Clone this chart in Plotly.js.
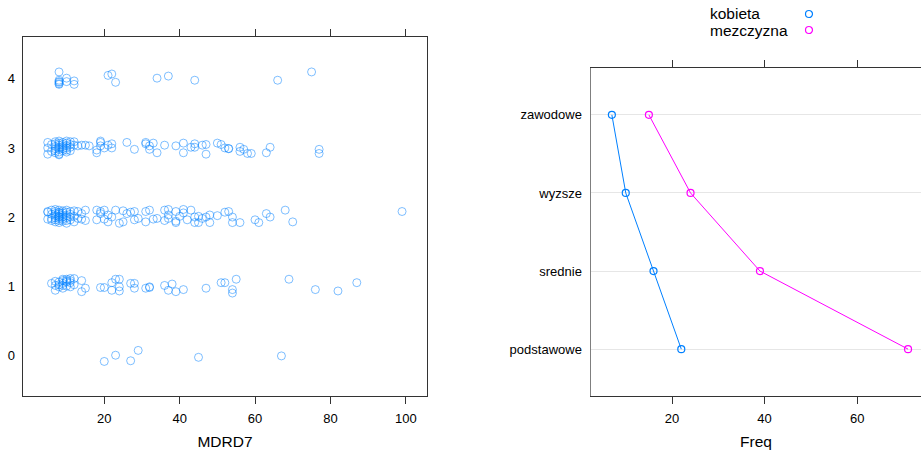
<!DOCTYPE html>
<html>
<head>
<meta charset="utf-8">
<script src="https://cdn.plot.ly/plotly-3.0.1.min.js"></script>
<style>html,body{margin:0;padding:0;background:#fff;}#chart{width:921px;height:454px;}</style>
</head>
<body>
<div id="chart"></div>
<script>
// ---- Left panel: stripplot of MDRD7 by group (jittered y values as read) ----
var lvl0_x = [20, 23, 27, 29, 45, 67];
var lvl0_y = [-0.09, 0.0, -0.08, 0.07, -0.03, -0.01];

var lvl1_x = [6, 7, 7, 8, 8, 9, 9, 9, 10, 10, 10, 11, 11, 12, 8, 9, 10, 11, 7, 9, 12, 11,
  14, 14, 15, 19, 20, 22, 22, 23, 24, 24, 24, 27, 28, 28, 31, 32, 32, 36, 37, 38, 39, 41,
  47, 51, 52, 54, 54, 55, 69, 76, 82, 87];
var lvl1_y = [1.04, 1.01, 0.94, 1.06, 0.99, 1.10, 1.04, 0.97, 1.10, 1.06, 1.00, 1.11, 0.99, 1.11, 1.02, 1.01, 1.08, 1.05, 1.07, 1.08, 1.02, 1.08,
  1.08, 0.92, 0.97, 0.98, 0.98, 1.05, 0.94, 1.10, 1.10, 0.99, 0.93, 1.04, 1.04, 0.97, 0.97, 0.98, 0.99, 1.01, 0.94, 1.03, 0.92, 0.95,
  0.97, 1.05, 1.05, 0.95, 0.90, 1.10, 1.10, 0.95, 0.93, 1.05];

var lvl2_x = [5, 5, 5, 6, 6, 6, 6, 7, 7, 7, 7, 7, 7, 7, 8, 8, 8, 8, 8, 8, 8, 8, 8,
  9, 9, 9, 9, 9, 9, 10, 10, 10, 10, 10, 10, 11, 11, 11, 11, 12, 12, 12, 13, 13, 14, 14, 15, 15,
  18, 18, 19, 19, 20, 20, 21, 21, 22, 23, 24, 25, 25, 26, 27, 28, 28, 29, 31, 31, 32, 33, 34,
  36, 36, 37, 37, 37, 39, 39, 39, 40, 41, 41, 42, 43, 44, 44, 45, 45, 46, 47, 48, 48, 50,
  52, 53, 54, 54, 56, 60, 61, 63, 64, 68, 70, 99];
var lvl2_y = [2.08, 2.07, 1.97, 2.10, 2.04, 1.98, 1.95, 2.11, 2.08, 2.05, 2.02, 1.99, 1.96, 1.93, 2.10, 2.07, 2.04, 2.01, 1.98, 1.95, 1.92, 2.06, 2.00,
  2.09, 2.06, 2.03, 2.00, 1.97, 1.94, 2.10, 2.07, 2.02, 1.99, 1.95, 1.91, 2.08, 2.04, 2.00, 1.96, 2.09, 2.01, 1.93, 2.08, 1.98, 2.05, 1.97, 2.10, 1.95,
  2.10, 1.96, 2.08, 2.05, 2.10, 1.97, 1.93, 2.03, 2.00, 2.10, 1.91, 1.93, 2.09, 2.05, 2.07, 1.96, 2.08, 1.98, 1.93, 2.08, 2.10, 1.97, 1.98,
  2.10, 1.95, 2.11, 2.03, 1.98, 2.08, 1.94, 1.92, 2.01, 2.11, 2.06, 1.96, 2.10, 2.00, 1.92, 2.01, 1.92, 1.98, 2.00, 2.03, 1.92, 2.02,
  2.07, 2.08, 2.00, 1.92, 1.92, 1.96, 1.92, 2.05, 2.00, 2.10, 1.93, 2.08];

var lvl3_x = [5, 5, 5, 6, 6, 7, 7, 7, 7, 7, 7, 8, 8, 8, 8, 8, 8, 8, 8,
  9, 9, 9, 9, 9, 10, 10, 10, 10, 10, 10, 11, 11, 11, 11, 12, 12, 13, 14, 15, 16,
  18, 18, 19, 19, 19, 20, 21, 22, 22, 26, 28, 31, 31, 32, 32, 33, 34, 36, 39, 41, 41,
  43, 44, 44, 46, 47, 47, 50, 51, 52, 53, 53, 56, 56, 57, 58, 59, 63, 64, 77, 77];
var lvl3_y = [3.08, 3.00, 2.91, 3.05, 2.95, 3.09, 3.06, 3.02, 2.99, 2.96, 2.93, 3.10, 3.07, 3.04, 3.01, 2.98, 2.94, 2.91, 2.90,
  3.08, 3.05, 3.02, 2.99, 2.96, 3.10, 3.07, 3.03, 3.00, 2.97, 2.94, 3.09, 3.05, 3.01, 2.96, 3.09, 3.04, 3.03, 3.04, 3.04, 3.03,
  2.97, 2.93, 3.10, 3.08, 3.03, 3.00, 3.04, 3.06, 3.00, 3.08, 2.98, 3.08, 3.06, 3.03, 2.98, 3.07, 2.93, 3.04, 3.03, 3.07, 2.93,
  3.01, 3.06, 3.01, 3.04, 3.05, 2.91, 3.07, 3.05, 3.00, 2.99, 2.99, 3.01, 2.95, 2.98, 2.92, 2.92, 2.93, 3.01, 2.98, 2.92];

var lvl4_x = [8, 8, 8, 8, 8, 8, 10, 10, 12, 12, 21, 22, 23, 34, 37, 44, 66, 75];
var lvl4_y = [4.10, 3.98, 3.95, 3.93, 3.92, 3.96, 4.01, 3.96, 3.97, 3.92, 4.05, 4.07, 3.95, 4.01, 4.04, 3.98, 3.98, 4.10];

var leftTicks = [0, 1, 2, 3, 4];
var leftXTicks = [20, 40, 60, 80, 100];

// ---- Right panel: Freq by education and sex ----
var eduCats = ["podstawowe", "srednie", "wyzsze", "zawodowe"];
var freqKobieta = [22, 16, 10, 7];
var freqMezczyzna = [71, 39, 24, 15];
var rightXTicks = [20, 40, 60];
var seriesNames = ["kobieta", "mezczyzna"];
var seriesColors = ["#0080ff", "#ff00ff"];

var allX = [].concat(lvl0_x, lvl1_x, lvl2_x, lvl3_x, lvl4_x);
var allY = [].concat(lvl0_y, lvl1_y, lvl2_y, lvl3_y, lvl4_y);

var FONT = "Liberation Sans, Arial, Helvetica, sans-serif";

var traces = [
  {
    type: "scatter", mode: "markers", x: allX, y: allY, xaxis: "x", yaxis: "y",
    marker: {symbol: "circle-open", size: 8, color: "rgba(0,128,255,0.5)", line: {width: 1, color: "rgba(0,128,255,0.5)"}},
    showlegend: false, hoverinfo: "x+y"
  },
  {
    type: "scatter", mode: "lines+markers", x: freqKobieta, y: eduCats, xaxis: "x2", yaxis: "y2",
    name: seriesNames[0], line: {color: seriesColors[0], width: 1},
    marker: {symbol: "circle-open", size: 7, color: seriesColors[0], line: {width: 1.2, color: seriesColors[0]}},
    showlegend: false
  },
  {
    type: "scatter", mode: "lines+markers", x: freqMezczyzna, y: eduCats, xaxis: "x2", yaxis: "y2",
    name: seriesNames[1], line: {color: seriesColors[1], width: 1},
    marker: {symbol: "circle-open", size: 7, color: seriesColors[1], line: {width: 1.2, color: seriesColors[1]}},
    showlegend: false
  }
];

var W = 921, H = 454;
function px(x) { return x / W; }
function py(y) { return 1 - y / H; }

var layout = {
  width: W, height: H,
  margin: {l: 0, r: 0, t: 0, b: 0},
  paper_bgcolor: "#fff", plot_bgcolor: "#fff",
  font: {family: FONT, size: 13, color: "#000"},
  showlegend: false,
  xaxis: {
    domain: [px(22.7), px(427.3)], range: [-1.64, 105.7], anchor: "y",
    tickvals: leftXTicks, ticks: "outside", ticklen: 7, tickcolor: "#333", tickwidth: 1,
    ticklabelstandoff: 3,
    showline: true, linecolor: "#333", linewidth: 1, mirror: "ticks",
    showgrid: false, zeroline: false,
    tickfont: {family: FONT, size: 13, color: "#000"},
    title: {text: "MDRD7", font: {family: FONT, size: 15.5, color: "#000"}, standoff: 11}
  },
  yaxis: {
    domain: [py(396), py(36.7)], range: [-0.59, 4.61], anchor: "x",
    tickvals: leftTicks, ticks: "", ticklabelstandoff: 4,
    showline: true, linecolor: "#333", linewidth: 1, mirror: true,
    showgrid: false, zeroline: false,
    tickfont: {family: FONT, size: 13, color: "#000"}
  },
  xaxis2: {
    domain: [px(591), 1], range: [2.49, 73.8], anchor: "y2",
    tickvals: rightXTicks, ticks: "outside", ticklen: 7, tickcolor: "#333", tickwidth: 1,
    ticklabelstandoff: 3,
    showline: true, linecolor: "#333", linewidth: 1, mirror: "ticks",
    showgrid: false, zeroline: false,
    tickfont: {family: FONT, size: 13, color: "#000"},
    title: {text: "Freq", font: {family: FONT, size: 15.5, color: "#000"}, standoff: 11}
  },
  yaxis2: {
    domain: [py(396), py(68)], range: [-0.6, 3.6], anchor: "x2",
    type: "category", categoryorder: "array", categoryarray: eduCats,
    ticks: "", ticklabelstandoff: 5,
    showline: true, linecolor: "#7f7f7f", linewidth: 1.5, mirror: false,
    showgrid: true, gridcolor: "#e6e6e6", gridwidth: 1, zeroline: false,
    tickfont: {family: FONT, size: 13, color: "#000"}
  },
  annotations: [
    {text: seriesNames[0], xref: "paper", yref: "paper", x: px(707.7), y: py(13.5), xanchor: "left", yanchor: "middle",
     showarrow: false, font: {family: FONT, size: 15.5, color: "#000"}},
    {text: seriesNames[1], xref: "paper", yref: "paper", x: px(707.7), y: py(30.5), xanchor: "left", yanchor: "middle",
     showarrow: false, font: {family: FONT, size: 15.5, color: "#000"}}
  ],
  shapes: [
    {type: "circle", xref: "paper", yref: "paper", xsizemode: "pixel", ysizemode: "pixel",
     xanchor: px(809), yanchor: py(14), x0: -3.5, x1: 3.5, y0: -3.5, y1: 3.5,
     line: {color: seriesColors[0], width: 1.2}},
    {type: "circle", xref: "paper", yref: "paper", xsizemode: "pixel", ysizemode: "pixel",
     xanchor: px(809), yanchor: py(30), x0: -3.5, x1: 3.5, y0: -3.5, y1: 3.5,
     line: {color: seriesColors[1], width: 1.2}}
  ]
};

Plotly.newPlot("chart", traces, layout, {displayModeBar: false, staticPlot: true});
</script>
</body>
</html>
